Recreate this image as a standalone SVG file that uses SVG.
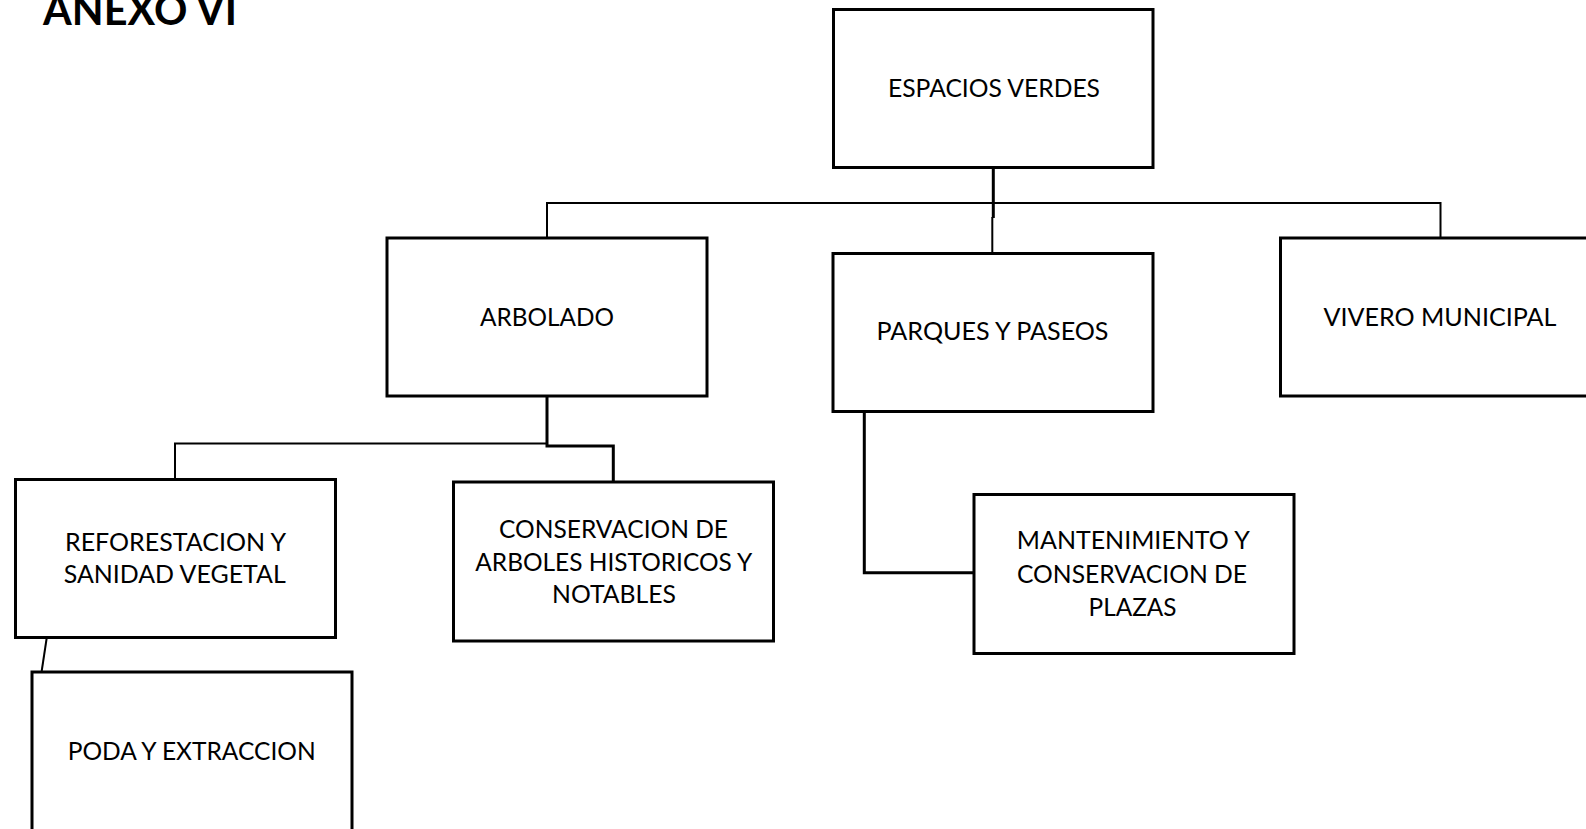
<svg xmlns="http://www.w3.org/2000/svg" width="1586" height="829" viewBox="0 0 1586 829">
<style>
.box{fill:#fff;stroke:#000;stroke-width:3}
.t{font-family:Lato,"Liberation Sans",sans-serif;font-size:25.5px;fill:#000;text-anchor:middle}
.title{font-family:Lato,"Liberation Sans",sans-serif;font-size:42px;font-weight:bold;fill:#000}
.thin{fill:none;stroke:#000;stroke-width:2}
.thick{fill:none;stroke:#000;stroke-width:3}
</style>
<rect width="1586" height="829" fill="#fff"/>
<text class="title" x="43" y="25" textLength="194" lengthAdjust="spacingAndGlyphs">ANEXO VI</text>
<g id="connectors">
<path class="thick" d="M993.3 168 V218"/>
<path class="thin" d="M547 237 V203 H1440.5 V237"/>
<path class="thin" d="M992.3 217 V252"/>
<path class="thick" d="M547 396 V446 H613.3 V481"/>
<path class="thin" d="M547 443.5 H175 V479"/>
<path class="thin" d="M46.7 638 L41.7 671"/>
<path class="thick" d="M864.3 412 V572.7 H973"/>
</g>
<g id="espacios-verdes">
<rect class="box" x="833.5" y="9.5" width="319.5" height="158"/>
<text class="t" x="994" y="97" textLength="212" lengthAdjust="spacingAndGlyphs">ESPACIOS VERDES</text>
</g>
<g id="arbolado">
<rect class="box" x="387" y="238" width="320" height="158"/>
<text class="t" x="547" y="326" textLength="134" lengthAdjust="spacingAndGlyphs">ARBOLADO</text>
</g>
<g id="parques">
<rect class="box" x="833" y="253.5" width="320" height="158"/>
<text class="t" x="992.5" y="340" textLength="232" lengthAdjust="spacingAndGlyphs">PARQUES Y PASEOS</text>
</g>
<g id="vivero">
<rect class="box" x="1280.5" y="238" width="320" height="158"/>
<text class="t" x="1440" y="326" textLength="233" lengthAdjust="spacingAndGlyphs">VIVERO MUNICIPAL</text>
</g>
<g id="reforestacion">
<rect class="box" x="15.5" y="479.5" width="320" height="158"/>
<text class="t" x="175.5" y="551" textLength="221" lengthAdjust="spacingAndGlyphs">REFORESTACION Y</text>
<text class="t" x="174.7" y="583" textLength="222" lengthAdjust="spacingAndGlyphs">SANIDAD VEGETAL</text>
</g>
<g id="poda">
<rect class="box" x="32" y="672" width="320" height="160"/>
<text class="t" x="191.7" y="760" textLength="248" lengthAdjust="spacingAndGlyphs">PODA Y EXTRACCION</text>
</g>
<g id="conservacion-arboles">
<rect class="box" x="453.5" y="482" width="320" height="159"/>
<text class="t" x="613.5" y="538" textLength="229" lengthAdjust="spacingAndGlyphs">CONSERVACION DE</text>
<text class="t" x="613.8" y="571" textLength="277" lengthAdjust="spacingAndGlyphs">ARBOLES HISTORICOS Y</text>
<text class="t" x="614" y="603" textLength="124" lengthAdjust="spacingAndGlyphs">NOTABLES</text>
</g>
<g id="mantenimiento">
<rect class="box" x="974" y="494.5" width="320" height="159"/>
<text class="t" x="1133.3" y="549" textLength="233" lengthAdjust="spacingAndGlyphs">MANTENIMIENTO Y</text>
<text class="t" x="1132" y="583" textLength="230" lengthAdjust="spacingAndGlyphs">CONSERVACION DE</text>
<text class="t" x="1132.5" y="616" textLength="88" lengthAdjust="spacingAndGlyphs">PLAZAS</text>
</g>
</svg>
